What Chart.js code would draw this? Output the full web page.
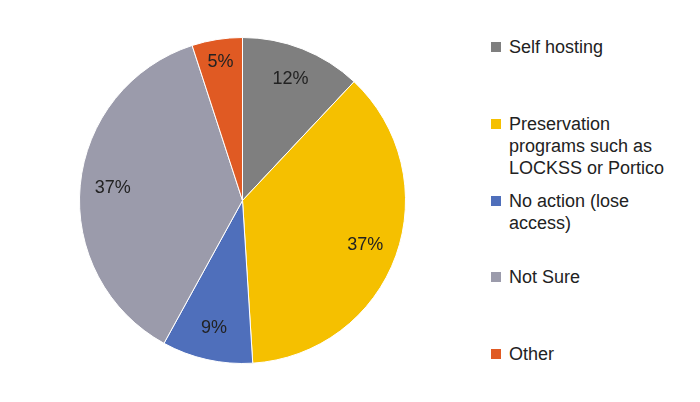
<!DOCTYPE html>
<html>
<head>
<meta charset="utf-8">
<script src="https://cdn.jsdelivr.net/npm/chart.js@4"></script>
<style>
  body { margin: 0; background: #fff; font-family: "Liberation Sans", Arial, sans-serif; }
  #wrap { position: relative; width: 700px; height: 402px; }
  #chartBox { position: absolute; left: 0; top: 0; width: 485px; height: 402px; }
  .item { position: absolute; left: 491px; font-size: 18px; line-height: 22px; color: #222; }
  .item span.sw { position: absolute; left: 0; top: 6px; width: 10px; height: 10px; }
  .item div { margin-left: 18px; }
</style>
</head>
<body>
<div id="wrap">
  <div id="chartBox"><canvas id="pie"></canvas></div>
  <div id="legend"></div>
</div>
<script>
const categories = ['Self hosting', 'Preservation programs such as LOCKSS or Portico', 'No action (lose access)', 'Not Sure', 'Other'];
const legendLines = [['Self hosting'], ['Preservation', 'programs such as', 'LOCKSS or Portico'], ['No action (lose', 'access)'], ['Not Sure'], ['Other']];
const values = [12, 37, 9, 37, 5];
const colors = ['#7f7f7f', '#f5c000', '#4f6fbb', '#9b9bab', '#e05a23'];
const legendTops = [36, 113, 190, 266, 343];

// legend
const legend = document.getElementById('legend');
legendLines.forEach((lines, i) => {
  const el = document.createElement('div');
  el.className = 'item';
  el.style.top = legendTops[i] + 'px';
  el.innerHTML = `<span class="sw" style="background:${colors[i]}"></span><div>${lines.join('<br>')}</div>`;
  legend.appendChild(el);
});

// percent labels inside slices
const pctLabels = {
  id: 'pctLabels',
  afterDatasetsDraw(chart) {
    const ctx = chart.ctx;
    ctx.save();
    ctx.font = '18px "Liberation Sans", Arial, sans-serif';
    ctx.fillStyle = '#222';
    ctx.textAlign = 'center';
    ctx.textBaseline = 'middle';
    chart.getDatasetMeta(0).data.forEach((arc, i) => {
      const mid = (arc.startAngle + arc.endAngle) / 2;
      const r = arc.outerRadius * (values[i] < 8 ? 0.86 : 0.8);
      ctx.fillText(values[i] + '%', arc.x + Math.cos(mid) * r, arc.y + Math.sin(mid) * r);
    });
    ctx.restore();
  }
};

new Chart(document.getElementById('pie'), {
  type: 'pie',
  data: {
    labels: categories,
    datasets: [{
      data: values,
      backgroundColor: colors,
      borderColor: '#fff',
      borderWidth: 1
    }]
  },
  options: {
    responsive: true,
    maintainAspectRatio: false,
    animation: false,
    layout: { padding: { top: 37, bottom: 38 } },
    plugins: { legend: { display: false }, tooltip: { enabled: false } }
  },
  plugins: [pctLabels]
});
</script>
</body>
</html>
